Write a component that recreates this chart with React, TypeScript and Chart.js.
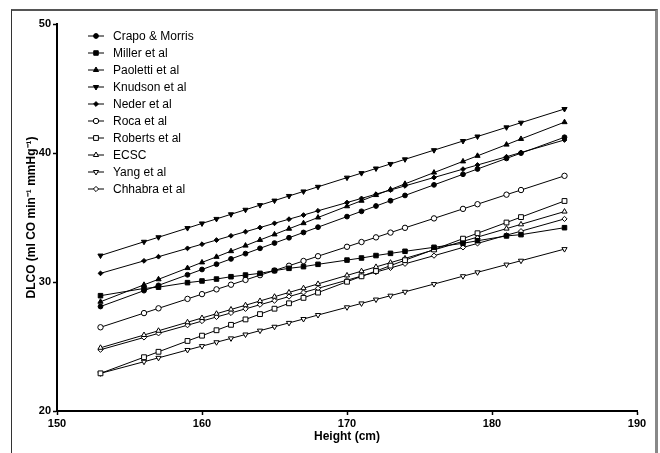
import React, { useEffect, useRef } from "react";
import { Chart, registerables } from "chart.js";
import { drawPoint } from "chart.js/helpers";

Chart.register(...registerables);

// Heights (cm) at which each reference equation is plotted
const heights = [153, 156, 157, 159, 160, 161, 162, 163, 164, 165, 166, 167, 168, 170, 171, 172, 173, 174, 176, 178, 179, 181, 182, 185];

const crapoMorris = [28.1, 29.33, 29.74, 30.56, 30.97, 31.38, 31.79, 32.2, 32.61, 33.02, 33.43, 33.84, 34.25, 35.07, 35.48, 35.89, 36.3, 36.71, 37.53, 38.35, 38.76, 39.58, 39.99, 41.22];
const miller = [28.94, 29.5, 29.6, 29.95, 30.08, 30.23, 30.41, 30.54, 30.67, 30.88, 31.06, 31.19, 31.37, 31.7, 31.86, 32.05, 32.22, 32.38, 32.69, 33.0, 33.2, 33.57, 33.67, 34.21];
const paoletti = [28.47, 29.78, 30.21, 31.08, 31.52, 31.95, 32.39, 32.82, 33.26, 33.69, 34.13, 34.56, 35.0, 35.87, 36.3, 36.74, 37.17, 37.61, 38.48, 39.35, 39.78, 40.65, 41.09, 42.39];
const knudson = [32.05, 33.12, 33.47, 34.18, 34.54, 34.89, 35.25, 35.6, 35.96, 36.31, 36.67, 37.02, 37.38, 38.09, 38.44, 38.8, 39.15, 39.51, 40.22, 40.93, 41.28, 41.99, 42.35, 43.41];
const neder = [30.67, 31.64, 31.96, 32.61, 32.93, 33.25, 33.58, 33.9, 34.22, 34.55, 34.87, 35.19, 35.52, 36.16, 36.48, 36.81, 37.13, 37.45, 38.1, 38.75, 39.07, 39.71, 40.04, 41.01];
const roca = [26.49, 27.59, 27.96, 28.69, 29.06, 29.43, 29.79, 30.16, 30.53, 30.89, 31.26, 31.63, 32.0, 32.73, 33.1, 33.46, 33.83, 34.2, 34.93, 35.67, 36.03, 36.77, 37.13, 38.23];
const roberts = [22.92, 24.17, 24.59, 25.43, 25.84, 26.26, 26.68, 27.1, 27.51, 27.93, 28.35, 28.77, 29.18, 30.02, 30.44, 30.85, 31.27, 31.69, 32.52, 33.36, 33.78, 34.61, 35.03, 36.28];
const ecsc = [24.9, 25.89, 26.22, 26.88, 27.21, 27.54, 27.87, 28.2, 28.53, 28.86, 29.19, 29.52, 29.85, 30.51, 30.84, 31.17, 31.5, 31.83, 32.49, 33.15, 33.48, 34.14, 34.47, 35.46];
const yang = [22.92, 23.82, 24.12, 24.73, 25.03, 25.33, 25.63, 25.93, 26.23, 26.53, 26.83, 27.13, 27.44, 28.04, 28.34, 28.64, 28.94, 29.24, 29.84, 30.45, 30.75, 31.35, 31.65, 32.55];
const chhabra = [24.75, 25.7, 26.02, 26.65, 26.97, 27.29, 27.6, 27.92, 28.24, 28.55, 28.87, 29.19, 29.51, 30.14, 30.46, 30.77, 31.09, 31.41, 32.04, 32.68, 32.99, 33.63, 33.94, 34.89];

const seriesLabels = ["Crapo & Morris", "Miller et al", "Paoletti et al", "Knudson et al", "Neder et al", "Roca et al", "Roberts et al", "ECSC", "Yang et al", "Chhabra et al"];
const seriesValues = [crapoMorris, miller, paoletti, knudson, neder, roca, roberts, ecsc, yang, chhabra];

const xTicks = [150, 160, 170, 180, 190];
const yTicks = [20, 30, 40, 50];

const FONT = '"Liberation Sans", Arial, Helvetica, sans-serif';

type Marker = { style: string; rotation: number; radius: number; fill: string };
const markers: Marker[] = [
  { style: "circle", rotation: 0, radius: 2.4, fill: "#000" },
  { style: "rect", rotation: 0, radius: 3.2, fill: "#000" },
  { style: "triangle", rotation: 0, radius: 3.0, fill: "#000" },
  { style: "triangle", rotation: 180, radius: 3.0, fill: "#000" },
  { style: "rectRot", rotation: 0, radius: 2.4, fill: "#000" },
  { style: "circle", rotation: 0, radius: 2.7, fill: "#fff" },
  { style: "rect", rotation: 0, radius: 3.4, fill: "#fff" },
  { style: "triangle", rotation: 0, radius: 3.0, fill: "#fff" },
  { style: "triangle", rotation: 180, radius: 3.0, fill: "#fff" },
  { style: "rectRot", rotation: 0, radius: 2.6, fill: "#fff" },
];

const legendPlugin = {
  id: "insetLegend",
  afterDraw(chart: any) {
    const ctx = chart.ctx;
    ctx.save();
    chart.data.datasets.forEach((ds: any, i: number) => {
      const y = 36 + i * 17;
      const m = markers[i];
      ctx.strokeStyle = "#000";
      ctx.lineWidth = 1;
      ctx.beginPath();
      ctx.moveTo(88, y);
      ctx.lineTo(104, y);
      ctx.stroke();
      ctx.fillStyle = m.fill;
      ctx.strokeStyle = "#000";
      ctx.lineWidth = 1;
      drawPoint(ctx, { pointStyle: m.style as any, rotation: m.rotation, radius: m.radius, borderWidth: 1 }, 96, y);
      ctx.fillStyle = "#000";
      ctx.font = `12px ${FONT}`;
      ctx.textBaseline = "middle";
      ctx.textAlign = "left";
      ctx.fillText(ds.label, 113, y + 0.5);
    });
    ctx.restore();
  },
};

export default function App() {
  const canvasRef = useRef<HTMLCanvasElement | null>(null);

  useEffect(() => {
    if (!canvasRef.current) return;
    const datasets = seriesLabels.map((label, i) => ({
      label,
      data: heights.map((h, j) => ({ x: h, y: seriesValues[i][j] })),
      borderColor: "#000",
      borderWidth: 1,
      pointStyle: markers[i].style as any,
      pointRotation: markers[i].rotation,
      pointRadius: markers[i].radius,
      pointBackgroundColor: markers[i].fill,
      pointBorderColor: "#000",
      pointBorderWidth: 1,
      fill: false,
      tension: 0,
    }));

    const chart = new Chart(canvasRef.current, {
      type: "line",
      data: { datasets },
      plugins: [legendPlugin],
      options: {
        animation: false,
        responsive: false,
        devicePixelRatio: 1,
        layout: { padding: { left: 11, right: 23, top: 24, bottom: 0 } },
        plugins: { legend: { display: false }, tooltip: { enabled: false } },
        scales: {
          x: {
            type: "linear",
            min: 150,
            max: 190,
            afterBuildTicks: (s: any) => { s.ticks = xTicks.map((v) => ({ value: v })); },
            afterFit: (s: any) => { s.height = 42; },
            border: { display: true, color: "#000", width: 2 },
            grid: { display: true, drawOnChartArea: false, drawTicks: true, tickLength: 4, tickColor: "#000", tickWidth: 1.5 },
            ticks: { color: "#000", font: { family: FONT, size: 11, weight: "bold" }, padding: 2, maxRotation: 0 },
            title: { display: true, text: "Height (cm)", color: "#000", font: { family: FONT, size: 12, weight: "bold" }, padding: { top: 0, bottom: 9 } },
          },
          y: {
            type: "linear",
            min: 20,
            max: 50,
            afterBuildTicks: (s: any) => { s.ticks = yTicks.map((v) => ({ value: v })); },
            afterFit: (s: any) => { s.width = 46; },
            border: { display: true, color: "#000", width: 2 },
            grid: { display: true, drawOnChartArea: false, drawTicks: true, tickLength: 4, tickColor: "#000", tickWidth: 1.5 },
            ticks: { color: "#000", font: { family: FONT, size: 11, weight: "bold" }, padding: 2 },
            title: { display: true, text: "DLCO (ml CO min\u207B\u00B9 mmHg\u207B\u00B9)", color: "#000", font: { family: FONT, size: 12, weight: "bold" }, padding: { top: 13, bottom: 0 } },
          },
        },
      },
    });
    return () => chart.destroy();
  }, []);

  return (
    <div style={{ position: "absolute", left: 0, top: 0, width: 660, height: 453, overflow: "hidden", background: "#fff" }}>
      <div
        style={{
          position: "absolute",
          left: 11,
          top: 9,
          width: 647,
          height: 470,
          boxSizing: "border-box",
          borderTop: "2px solid #555",
          borderLeft: "1px solid #333",
          borderRight: "3px solid #888",
        }}
      />
      <canvas ref={canvasRef} width={660} height={453} style={{ position: "absolute", left: 0, top: 0, width: 660, height: 453 }} />
    </div>
  );
}
